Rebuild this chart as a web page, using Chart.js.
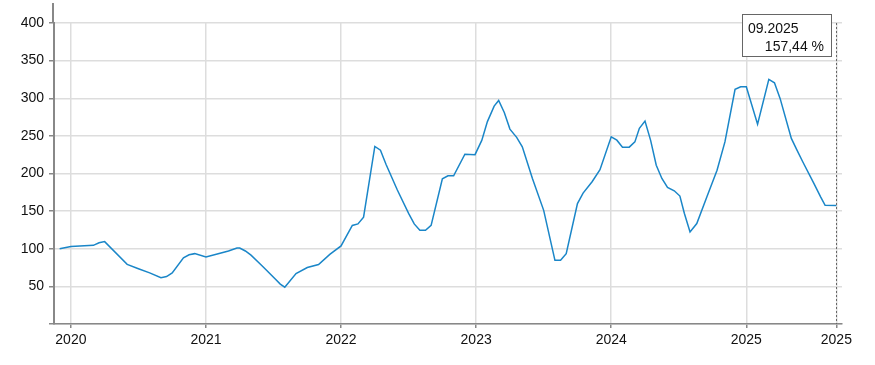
<!DOCTYPE html>
<html>
<head>
<meta charset="utf-8">
<script src="https://cdn.jsdelivr.net/npm/chart.js@4.4.1/dist/chart.umd.min.js"></script>
<style>
  html, body { margin: 0; padding: 0; background: #fff; }
  canvas { display: block; }
</style>
</head>
<body>
<canvas id="chart" width="875" height="365"></canvas>
<script>
// months counted from 01.2020 (0 = January 2020, -1 = December 2019)
const monthOffsets = [
  -1, 0, 2, 2.5, 3, 5, 6, 7, 8, 8.5, 9, 10, 10.5, 11, 12, 13, 14, 14.75, 15, 15.5,
  16, 17, 18, 18.6, 19, 20, 21, 22, 23, 24, 25, 25.5, 26, 27, 27.5, 28, 29, 30, 30.5,
  31, 31.5, 32, 33, 33.5, 34, 35, 35.9, 36.5, 37, 37.6, 38, 38.5, 39, 39.6, 40.1, 41,
  42, 43, 43.5, 44, 45, 45.5, 46.3, 47, 48, 48.5, 49, 49.6, 50.1, 50.5, 51, 51.5, 52,
  52.5, 53, 53.6, 54.1, 54.5, 55, 55.6, 56.5, 57.4, 58.1, 59, 59.5, 60, 61, 62, 62.5,
  63, 64, 64.5, 65, 66, 66.6, 67, 68
];
const values = [
  100, 103, 104.5, 108, 109.5, 79.3, 73.5, 68, 61.5, 63, 68, 88, 92, 93.5, 89, 93, 97, 101, 101, 97,
  91.5, 77, 62, 53, 49, 67, 75, 79, 92.5, 103.7, 131, 133, 142, 236, 231, 212, 178, 147, 133,
  124.6, 124.6, 131, 193, 197, 197, 225.7, 225, 244, 269, 289.6, 297, 281, 259, 248, 235.5, 193.4,
  151, 84.6, 84.6, 93.5, 160, 174, 189, 205, 248.8, 244.3, 235, 235, 242, 260, 269.6, 244, 211,
  193.4, 181.4, 177, 170, 146.8, 122.3, 133.5, 169, 204.4, 242, 311.8, 315.3, 315.3, 265.6, 325, 320.6,
  299.8, 246.6, 231, 216, 187, 169, 157.8, 157.44
];
const yearTicks = [0, 12, 24, 36, 48, 60, 68];
const yearLabels = ["2020", "2021", "2022", "2023", "2024", "2025", "2025"];
const lastDateLabel = "09.2025";
const lastValueLabel = "157,44 %";

const points = monthOffsets.map((m, i) => ({ x: m, y: values[i] }));

Chart.defaults.font.family = "'Liberation Sans', Arial, sans-serif";
Chart.defaults.font.size = 14;
Chart.defaults.color = "#111";

// axis line above the top gridline, dotted marker and value box at the last point
const markerPlugin = {
  id: "marker",
  afterDraw(chart) {
    const { ctx, chartArea } = chart;
    const meta = chart.getDatasetMeta(0);
    const last = meta.data[meta.data.length - 1];
    const lx = Math.round(last.x);

    ctx.save();
    ctx.strokeStyle = "#888";
    ctx.lineWidth = 2;
    ctx.beginPath();
    ctx.moveTo(chartArea.left - 1, 3);
    ctx.lineTo(chartArea.left - 1, chartArea.top);
    ctx.stroke();

    ctx.strokeStyle = "#666";
    ctx.lineWidth = 1;
    ctx.setLineDash([2, 2]);
    ctx.beginPath();
    ctx.moveTo(lx + 0.5, chartArea.top);
    ctx.lineTo(lx + 0.5, chartArea.bottom);
    ctx.stroke();
    ctx.setLineDash([]);

    const bx = lx - 94, by = Math.round(chartArea.top) - 9, bw = 89, bh = 42;
    ctx.fillStyle = "#fff";
    ctx.fillRect(bx, by, bw, bh);
    ctx.strokeStyle = "#666";
    ctx.strokeRect(bx + 0.5, by + 0.5, bw, bh);
    ctx.fillStyle = "#111";
    ctx.font = "14px 'Liberation Sans', Arial, sans-serif";
    ctx.textBaseline = "alphabetic";
    ctx.textAlign = "left";
    ctx.fillText(lastDateLabel, bx + 6, by + 19);
    ctx.textAlign = "right";
    ctx.fillText(lastValueLabel, bx + bw - 7, by + 37);
    ctx.restore();
  }
};

new Chart(document.getElementById("chart"), {
  type: "line",
  data: {
    datasets: [
      {
        data: points,
        borderColor: "#1a86c8",
        borderWidth: 1.5,
        pointRadius: 0,
        tension: 0,
        fill: false,
      },
    ],
  },
  options: {
    responsive: false,
    animation: false,
    layout: { padding: { top: 23, right: 33, left: 0, bottom: 0 } },
    plugins: {
      legend: { display: false },
      tooltip: { enabled: false },
    },
    scales: {
      x: {
        type: "linear",
        min: -1.5,
        max: 68.5,
        afterFit: (scale) => { scale.height = 41; },
        afterBuildTicks: (scale) => {
          scale.ticks = yearTicks.map((v) => ({ value: v }));
        },
        ticks: {
          autoSkip: false,
          maxRotation: 0,
          padding: 4,
          callback: (value, index) => yearLabels[index],
        },
        grid: { color: "#ddd", lineWidth: 1.5, tickLength: 4, tickColor: "#888" },
        border: { color: "#888", width: 1.5 },
      },
      y: {
        min: 0,
        max: 400,
        afterFit: (scale) => { scale.width = 54; },
        ticks: {
          stepSize: 50,
          padding: 5,
          callback: (value) => (value === 0 ? "" : value),
        },
        grid: { color: "#ddd", lineWidth: 1.5, tickLength: 5, tickColor: "#888" },
        border: { color: "#888", width: 2 },
      },
    },
  },
  plugins: [markerPlugin],
});
</script>
</body>
</html>
